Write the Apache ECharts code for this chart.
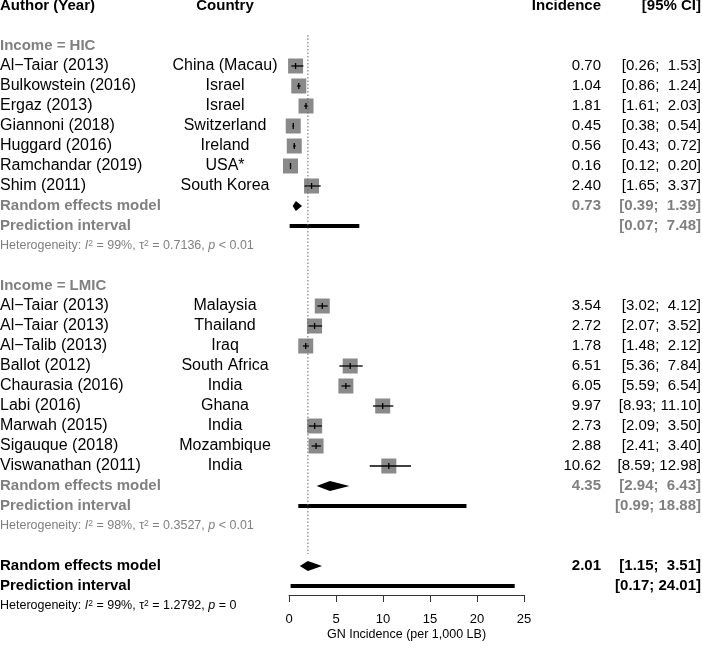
<!DOCTYPE html>
<html>
<head>
<meta charset="utf-8">
<script src="https://cdn.jsdelivr.net/npm/echarts@6/dist/echarts.min.js"></script>
<style>
  html, body {margin: 0; padding: 0; background: #fff}
  #main {width: 702px; height: 648px}
</style>
</head>
<body>
<div id="main"></div>
<script>
// HIC studies
const hicAuthors = ['Al\u2212Taiar (2013)', 'Bulkowstein (2016)', 'Ergaz (2013)', 'Giannoni (2018)', 'Huggard (2016)', 'Ramchandar (2019)', 'Shim (2011)']
const hicCountries = ['China (Macau)', 'Israel', 'Israel', 'Switzerland', 'Ireland', 'USA*', 'South Korea']
const hicEst = [0.70, 1.04, 1.81, 0.45, 0.56, 0.16, 2.40]
const hicLo = [0.26, 0.86, 1.61, 0.38, 0.43, 0.12, 1.65]
const hicHi = [1.53, 1.24, 2.03, 0.54, 0.72, 0.20, 3.37]

// LMIC studies
const lmicAuthors = ['Al\u2212Taiar (2013)', 'Al\u2212Taiar (2013)', 'Al\u2212Talib (2013)', 'Ballot (2012)', 'Chaurasia (2016)', 'Labi (2016)', 'Marwah (2015)', 'Sigauque (2018)', 'Viswanathan (2011)']
const lmicCountries = ['Malaysia', 'Thailand', 'Iraq', 'South Africa', 'India', 'Ghana', 'India', 'Mozambique', 'India']
const lmicEst = [3.54, 2.72, 1.78, 6.51, 6.05, 9.97, 2.73, 2.88, 10.62]
const lmicLo = [3.02, 2.07, 1.48, 5.36, 5.59, 8.93, 2.09, 2.41, 8.59]
const lmicHi = [4.12, 3.52, 2.12, 7.84, 6.54, 11.10, 3.50, 3.40, 12.98]

// pooled: [HIC, LMIC, overall]
const reEst = [0.73, 4.35, 2.01]
const reLo = [0.39, 2.94, 1.15]
const reHi = [1.39, 6.43, 3.51]
const piLo = [0.07, 0.99, 0.17]
const piHi = [7.48, 18.88, 24.01]
const hetI2 = ['99%', '98%', '99%']
const hetTau2 = ['0.7136', '0.3527', '1.2792']
const hetP = ['< 0.01', '< 0.01', '= 0']

const groupLabels = ['Income = HIC', 'Income = LMIC']
const headers = ['Author (Year)', 'Country', 'Incidence', '[95% CI]']
const xTicks = [0, 5, 10, 15, 20, 25]
const axisTitle = 'GN Incidence (per 1,000 LB)'

const GRAY = '#808080'
const FONT = '"Liberation Sans", Arial, sans-serif'
const COL = {author: 0, country: 225, est: 601, ci: 701}

const fmt = v => v.toFixed(2)
const ci = (lo, hi) => '[' + fmt(lo) + '; ' + fmt(hi).padStart(5, ' ') + ']'

// build row layout
const texts = [] // {row, cells:[{text, x, align, size}], bold, color, het}
const studies = [] // [est, lo, hi, row]
const diamonds = []
const preds = []

texts.push({row: 0, bold: true, color: '#000', cells: [
  {text: headers[0], x: COL.author, align: 'left'},
  {text: headers[1], x: COL.country, align: 'center'},
  {text: headers[2], x: COL.est, align: 'right'},
  {text: headers[3], x: COL.ci, align: 'right'},
]})

const groups = [
  {authors: hicAuthors, countries: hicCountries, est: hicEst, lo: hicLo, hi: hicHi},
  {authors: lmicAuthors, countries: lmicCountries, est: lmicEst, lo: lmicLo, hi: lmicHi},
]

let r = 2
groups.forEach((g, gi) => {
  texts.push({row: r, bold: true, color: GRAY, cells: [{text: groupLabels[gi], x: COL.author, align: 'left'}]})
  r++
  g.est.forEach((e, i) => {
    texts.push({row: r, bold: false, color: '#000', cells: [
      {text: g.authors[i], x: COL.author, align: 'left', size: 16},
      {text: g.countries[i], x: COL.country, align: 'center', size: 16},
      {text: fmt(e), x: COL.est, align: 'right'},
      {text: ci(g.lo[i], g.hi[i]), x: COL.ci, align: 'right'},
    ]})
    studies.push([e, g.lo[i], g.hi[i], r])
    r++
  })
  pooledRows(gi, GRAY)
  r += 2
})
r = 28
pooledRows(2, '#000')

function pooledRows(k, color) {
  texts.push({row: r, bold: true, color, cells: [
    {text: 'Random effects model', x: COL.author, align: 'left'},
    {text: fmt(reEst[k]), x: COL.est, align: 'right'},
    {text: ci(reLo[k], reHi[k]), x: COL.ci, align: 'right'},
  ]})
  diamonds.push([reEst[k], reLo[k], reHi[k], r])
  r++
  texts.push({row: r, bold: true, color, cells: [
    {text: 'Prediction interval', x: COL.author, align: 'left'},
    {text: ci(piLo[k], piHi[k]), x: COL.ci, align: 'right'},
  ]})
  preds.push([piLo[k], piHi[k], r])
  r++
  texts.push({row: r, het: k, color})
}

const chart = echarts.init(document.getElementById('main'), null, {renderer: 'canvas'})

function renderText(params, api) {
  const t = texts[params.dataIndex]
  const y = api.coord([0, t.row])[1]
  if (t.het !== undefined) {
    const k = t.het
    return {
      type: 'text', x: 0, y,
      style: {
        text: 'Heterogeneity: {i|I}{s|2} = ' + hetI2[k] + ', \u03c4{s|2} = ' + hetTau2[k] + ', {i|p} ' + hetP[k],
        x: 0, y: 0, align: 'left', verticalAlign: 'middle',
        font: '12.5px ' + FONT, fill: t.color,
        rich: {
          i: {fontStyle: 'italic', fontSize: 12.5, fontFamily: FONT, fill: t.color},
          s: {fontSize: 8.5, fontFamily: FONT, verticalAlign: 'top', fill: t.color},
        },
      },
    }
  }
  return {
    type: 'group',
    children: t.cells.map(c => ({
      type: 'text', x: c.x, y,
      style: {
        text: c.text, x: 0, y: 0, align: c.align, verticalAlign: 'middle',
        font: (t.bold ? 'bold ' : '') + (c.size || 15) + 'px ' + FONT, fill: t.color,
      },
    })),
  }
}

function renderStudy(params, api) {
  const row = api.value(3)
  const c = api.coord([api.value(0), row])
  const lo = api.coord([api.value(1), row])[0]
  const hi = api.coord([api.value(2), row])[0]
  const s = 15
  return {
    type: 'group',
    children: [
      {type: 'rect', shape: {x: c[0] - s / 2, y: c[1] - s / 2, width: s, height: s}, style: {fill: '#8a8a8a'}},
      {type: 'line', shape: {x1: lo, y1: c[1], x2: hi, y2: c[1]}, style: {stroke: '#000', lineWidth: 1.3}},
      {type: 'line', shape: {x1: c[0], y1: c[1] - 3, x2: c[0], y2: c[1] + 3}, style: {stroke: '#000', lineWidth: 1.3}},
    ],
  }
}

function renderDiamond(params, api) {
  const row = api.value(3)
  const c = api.coord([api.value(0), row])
  const lo = api.coord([api.value(1), row])[0]
  const hi = api.coord([api.value(2), row])[0]
  const h = 5
  return {
    type: 'polygon',
    shape: {points: [[lo, c[1]], [c[0], c[1] - h], [hi, c[1]], [c[0], c[1] + h]]},
    style: {fill: '#000'},
  }
}

function renderPred(params, api) {
  const row = api.value(2)
  const a = api.coord([api.value(0), row])
  const b = api.coord([api.value(1), row])
  return {
    type: 'rect',
    shape: {x: a[0], y: a[1] - 2, width: b[0] - a[0], height: 4},
    style: {fill: '#000'},
  }
}

const option = {
  animation: false,
  grid: {left: 289, right: 178, top: 6, bottom: 53, outerBoundsMode: 'none', containLabel: false},
  xAxis: {
    type: 'value', min: xTicks[0], max: xTicks[xTicks.length - 1], interval: 5,
    name: axisTitle, nameLocation: 'middle', nameGap: 33, nameMoveOverlap: false,
    nameTextStyle: {fontSize: 12.5, fontFamily: FONT, color: '#000'},
    axisLine: {onZero: false, lineStyle: {color: '#333', width: 1}},
    axisTick: {length: 7, lineStyle: {color: '#333'}},
    axisLabel: {fontSize: 13, fontFamily: FONT, color: '#000', margin: 18},
    splitLine: {show: false},
  },
  yAxis: {type: 'value', inverse: true, min: 0, max: 29.45, show: false},
  series: [
    {
      type: 'line', data: [[reEst[2], 1.45], [reEst[2], 27.4]], symbol: 'none', silent: true,
      lineStyle: {color: '#666', width: 1, type: [1.5, 2]},
    },
    {type: 'custom', renderItem: renderPred, data: preds, clip: false},
    {type: 'custom', renderItem: renderStudy, data: studies, clip: false},
    {type: 'custom', renderItem: renderDiamond, data: diamonds, clip: false},
    {type: 'custom', renderItem: renderText, data: texts.map(t => [0, t.row]), clip: false},
  ],
}

chart.setOption(option)
</script>
</body>
</html>
